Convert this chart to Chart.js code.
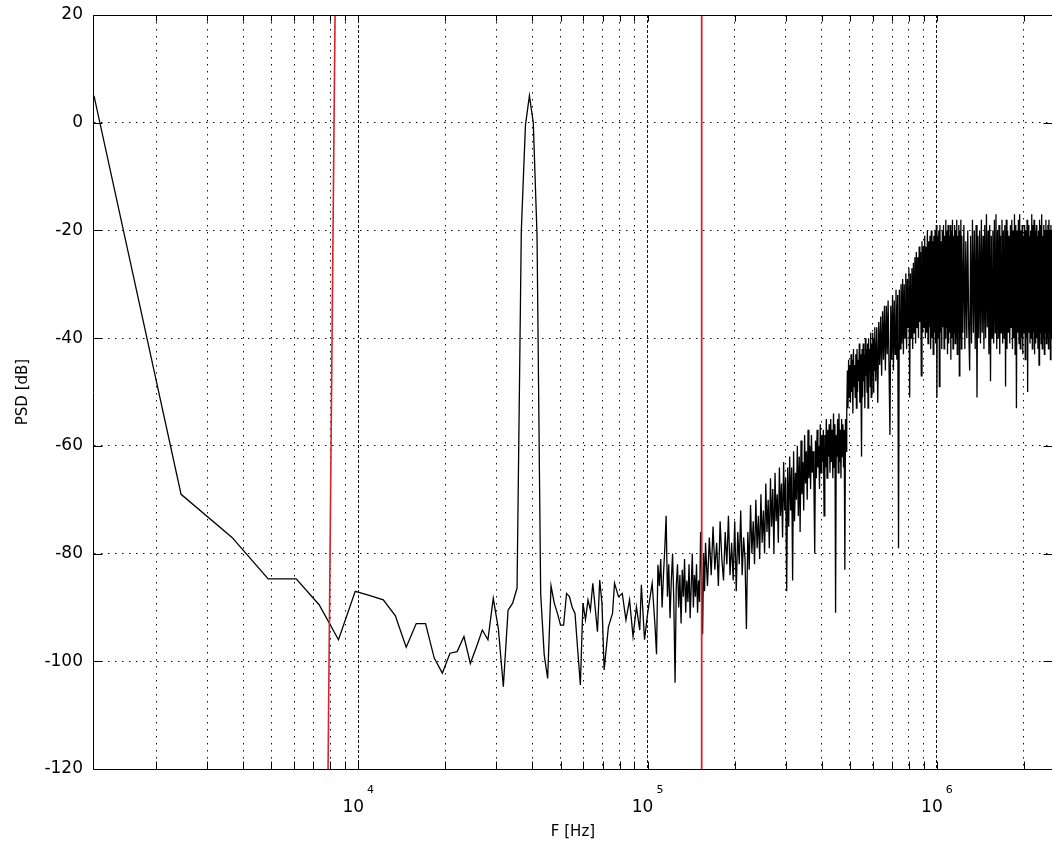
<!DOCTYPE html>
<html>
<head>
<meta charset="utf-8">
<script src="https://cdn.jsdelivr.net/npm/chart.js@4.4.1/dist/chart.umd.min.js"></script>
<style>
  html, body { margin: 0; padding: 0; background: #fff; overflow: hidden; }
  #wrap { width: 1052px; height: 842px; position: relative; }
</style>
</head>
<body>
<div id="wrap"><canvas id="psd"></canvas></div>
<script>
// FFT bin width in Hz
const binHz = 1220;

// low part of the spectrum, bin by bin (tone at bin 32)
const toneBins = [1, 2, 3, 4, 5, 6, 7, 8, 9, 10, 11, 12, 13, 14, 15, 16, 17, 18, 19, 20,
    21, 22, 23, 24, 25, 26, 27, 28, 29, 30, 31, 32, 33, 34, 35, 36, 37, 38, 39, 40,
    41, 42, 43, 44, 45, 46, 47, 48, 49, 50, 51, 52, 53, 55, 56, 57, 58, 60, 62, 63,
    65, 67, 68, 69, 71, 73, 75, 77, 78, 80, 82, 85, 87, 88, 89];
const toneDb = [5, -69, -77, -84.7, -84.7, -89.5, -96, -87, -87.8, -88.6, -91.5, -97.4, -93, -93, -99.4, -102.2, -98.5, -98.2, -95.4, -100.4,
    -97.3, -94.2, -96, -88.3, -94, -104.7, -90.5, -89.2, -86.4, -20, -0.5, 5, 0, -21, -87.5, -98.8, -103.2, -86, -89.2, -91.1,
    -93.3, -93.3, -87.4, -88, -90, -91.1, -97.9, -104.4, -89.2, -92.3, -88.6, -90.5, -85.5, -94.5, -84.9, -89.2, -101.6, -93.6, -91.1, -85.5,
    -88, -87.4, -89.9, -92.3, -88.6, -95.4, -89.9, -94.2, -85.8, -96, -91.1, -85.5, -93.6, -98.7, -82.1];

// noisy part, 90 .. 250 (bins)
const midBins = [90, 91, 92, 93, 94, 95, 96, 97, 98, 99, 100, 101, 102, 103, 104, 105, 106, 107, 108, 109,
    110, 111, 112, 113, 114, 115, 116, 117, 118, 119, 120, 121, 122, 123, 124, 125, 126, 127, 128, 129, 130,
    132, 134, 136, 138, 140, 142, 144, 146, 148, 150, 152, 154, 156, 158, 160, 162, 164, 166, 168, 170,
    172, 174, 176, 178, 180, 182, 184, 186, 188, 190, 192, 194, 196, 198, 200, 202, 204, 206, 208, 210,
    212, 214, 216, 218, 220, 222, 224, 226, 228, 230, 232, 234, 236, 238, 240, 242, 244, 246, 248, 250];
const midDb = [-86, -81, -90, -84, -79, -73, -88, -82, -92, -85, -80, -89, -104, -86, -82, -90, -84, -93, -83, -88,
    -81, -91, -85, -89, -82, -92, -86, -80, -90, -84, -88, -82, -91, -85, -89, -76, -84, -95, -80, -87, -78,
    -86, -77, -84, -75, -83, -78, -86, -74, -81, -85, -76, -82, -73, -84, -78, -85, -74, -87, -76, -82,
    -72, -84, -77, -81, -94, -76, -83, -71, -80, -74, -82, -70, -79, -73, -81, -69, -78, -72, -80, -67,
    -76, -70, -79, -66, -75, -68, -80, -65, -74, -69, -78, -64, -73, -67, -77, -63, -72, -66, -87, -64];

// rising part, 252 .. 500 every 2 bins
const riseBins = [252, 254, 256, 258, 260, 262, 264, 266, 268, 270, 272, 274, 276, 278, 280, 282, 284, 286, 288, 290,
    292, 294, 296, 298, 300, 302, 304, 306, 308, 310, 312, 314, 316, 318, 320, 322, 324, 326, 328, 330,
    332, 334, 336, 338, 340, 342, 344, 346, 348, 350, 352, 354, 356, 358, 360, 362, 364, 366, 368, 370,
    372, 374, 376, 378, 380, 382, 384, 386, 388, 390, 392, 394, 396, 398, 400, 402, 404, 406, 408, 410,
    412, 414, 416, 418, 420, 422, 424, 426, 428, 430, 432, 434, 436, 438, 440, 442, 444, 446, 448, 450,
    452, 454, 456, 458, 460, 462, 464, 466, 468, 470, 472, 474, 476, 478, 480, 482, 484, 486, 488, 490,
    492, 494, 496, 498, 500];
const riseDb = [-75, -62, -72, -64, -85, -61, -74, -65, -70, -60, -73, -62, -76, -59, -69, -63, -72, -58, -67, -61,
    -70, -57, -66, -60, -68, -58, -65, -61, -67, -80, -59, -66, -57, -64, -60, -68, -56, -65, -58, -63,
    -57, -73, -58, -64, -55, -66, -57, -62, -56, -65, -55, -63, -57, -66, -54, -64, -56, -91, -58, -62,
    -55, -65, -54, -63, -57, -66, -55, -62, -56, -64, -57, -83, -55, -61, -54, -46, -53, -44, -51, -45,
    -52, -43, -50, -44, -54, -42, -49, -45, -51, -43, -53, -42, -50, -44, -48, -41, -52, -43, -49, -62,
    -42, -51, -41, -48, -43, -53, -40, -47, -42, -50, -41, -53, -40, -46, -42, -49, -39, -51, -41, -47,
    -39, -50, -40, -46, -38];

// knee, 504 .. 1000 every 4 bins
const kneeBins = [504, 508, 512, 516, 520, 524, 528, 532, 536, 540, 544, 548, 552, 556, 560, 564, 568, 572, 576, 580,
    584, 588, 592, 596, 600, 604, 608, 612, 616, 620, 624, 628, 632, 636, 640, 644, 648, 652, 656, 660,
    664, 668, 672, 676, 680, 684, 688, 692, 696, 700, 704, 708, 712, 716, 720, 724, 728, 732, 736, 740,
    744, 748, 752, 756, 760, 764, 768, 772, 776, 780, 784, 788, 792, 796, 800, 804, 808, 812, 816, 820,
    824, 828, 832, 836, 840, 844, 848, 852, 856, 860, 864, 868, 872, 876, 880, 884, 888, 892, 896, 900,
    904, 908, 912, 916, 920, 924, 928, 932, 936, 940, 944, 948, 952, 956, 960, 964, 968, 972, 976, 980,
    984, 988, 992, 996, 1000];
const kneeDb = [-48, -38, -52, -37, -45, -36, -47, -35, -44, -34, -46, -34, -43, -33, -45, -58, -34, -44, -32, -46,
    -33, -43, -31, -44, -32, -79, -31, -42, -30, -41, -29, -43, -30, -40, -28, -42, -29, -38, -27, -51,
    -28, -40, -27, -42, -26, -39, -25, -41, -24, -38, -25, -40, -23, -37, -24, -47, -22, -39, -23, -38,
    -21, -40, -23, -39, -20, -41, -22, -38, -21, -42, -20, -40, -22, -43, -21, -39, -20, -41, -19, -51,
    -21, -40, -20, -49, -19, -39, -22, -42, -20, -38, -19, -42, -21, -40, -18, -38, -20, -43, -19, -41,
    -21, -39, -19, -44, -20, -40, -18, -42, -21, -39, -19, -41, -20, -40, -18, -43, -21, -39, -19, -47,
    -20, -40, -18, -42, -21];

// plateau, 1008 .. 2048 every 8 bins
const topBins = [1008, 1016, 1024, 1032, 1040, 1048, 1056, 1064, 1072, 1080, 1088, 1096, 1104, 1112, 1120, 1128, 1136, 1144, 1152, 1160,
    1168, 1176, 1184, 1192, 1200, 1208, 1216, 1224, 1232, 1240, 1248, 1256, 1264, 1272, 1280, 1288, 1296, 1304, 1312, 1320,
    1328, 1336, 1344, 1352, 1360, 1368, 1376, 1384, 1392, 1400, 1408, 1416, 1424, 1432, 1440, 1448, 1456, 1464, 1472, 1480,
    1488, 1496, 1504, 1512, 1520, 1528, 1536, 1544, 1552, 1560, 1568, 1576, 1584, 1592, 1600, 1608, 1616, 1624, 1632, 1640,
    1648, 1656, 1664, 1672, 1680, 1688, 1696, 1704, 1712, 1720, 1728, 1736, 1744, 1752, 1760, 1768, 1776, 1784, 1792, 1800,
    1808, 1816, 1824, 1832, 1840, 1848, 1856, 1864, 1872, 1880, 1888, 1896, 1904, 1912, 1920, 1928, 1936, 1944, 1952, 1960,
    1968, 1976, 1984, 1992, 2000, 2008, 2016, 2024, 2032, 2040, 2048];
const topDb = [-39, -19, -42, -22, -40, -20, -38, -46, -21, -41, -18, -39, -20, -42, -19, -51, -21, -40, -20, -41,
    -18, -39, -21, -42, -19, -40, -17, -38, -20, -43, -19, -48, -21, -40, -20, -41, -18, -39, -17, -42,
    -20, -40, -19, -43, -21, -39, -18, -41, -20, -40, -19, -49, -18, -42, -20, -39, -21, -41, -19, -38,
    -18, -42, -20, -40, -17, -43, -19, -53, -20, -39, -18, -41, -17, -42, -20, -40, -19, -43, -21, -39,
    -19, -44, -20, -40, -18, -50, -19, -39, -21, -41, -20, -40, -17, -42, -19, -39, -18, -43, -20, -41,
    -19, -40, -21, -42, -20, -45, -18, -39, -19, -41, -17, -42, -21, -40, -19, -43, -20, -39, -18, -41,
    -20, -40, -19, -42, -18, -39, -20, -44, -19, -40, -20];

// red marker lines
const markerLowHz = [7860, 8310];
const markerHighHz = [153800, 153800];
const markerDb = [-120, 20];

// axis ticks / grid
const xGrid = [2000, 3000, 4000, 5000, 6000, 7000, 8000, 9000,
    10000, 20000, 30000, 40000, 50000, 60000, 70000, 80000, 90000,
    100000, 200000, 300000, 400000, 500000, 600000, 700000, 800000, 900000,
    1000000, 2000000];
const decades = [4, 5, 6];
const yTicks = [20, 0, -20, -40, -60, -80, -100, -120];

const decadeHz = decades.map(e => Math.pow(10, e));

const psdBins = toneBins.concat(midBins, riseBins, kneeBins, topBins);
const psdDb = toneDb.concat(midDb, riseDb, kneeDb, topDb);
const psdPoints = psdBins.map((k, i) => ({ x: k * binHz, y: psdDb[i] }));

// frame, inward ticks and 10^n labels
const framePlugin = {
    id: 'frame',
    afterDatasetsDraw(chart) {
        const { ctx, chartArea: a, scales } = chart;
        const xs = scales.x, ys = scales.y;
        const L = a.left - 0.5, R = a.right + 0.5, T = a.top + 0.5, B = a.bottom + 0.5;
        ctx.save();
        ctx.strokeStyle = '#000';
        ctx.lineWidth = 1;
        ctx.setLineDash([]);
        ctx.beginPath();
        ctx.moveTo(L, T); ctx.lineTo(R, T); ctx.lineTo(R, B); ctx.lineTo(L, B); ctx.closePath();
        xGrid.forEach(v => {
            const px = Math.round(xs.getPixelForValue(v)) + 0.5;
            ctx.moveTo(px, B); ctx.lineTo(px, B - 8);
            ctx.moveTo(px, T); ctx.lineTo(px, T + 6);
        });
        yTicks.forEach(v => {
            const py = Math.round(ys.getPixelForValue(v)) + 0.5;
            ctx.moveTo(L, py); ctx.lineTo(L + 9, py);
            ctx.moveTo(R, py); ctx.lineTo(R - 9, py);
        });
        ctx.stroke();

        ctx.fillStyle = '#000';
        ctx.textAlign = 'left';
        ctx.textBaseline = 'alphabetic';
        decades.forEach(e => {
            const px = xs.getPixelForValue(Math.pow(10, e));
            ctx.font = '17px "DejaVu Sans"';
            const w1 = ctx.measureText('10').width;
            ctx.font = '11px "DejaVu Sans"';
            const w2 = ctx.measureText(String(e)).width;
            const x0 = px - (w1 + 3 + w2) / 2;
            ctx.font = '17px "DejaVu Sans"';
            ctx.fillText('10', x0, a.bottom + 43);
            ctx.font = '11px "DejaVu Sans"';
            ctx.fillText(String(e), x0 + w1 + 3, a.bottom + 24);
        });
        ctx.restore();
    }
};

Chart.defaults.font.family = '"DejaVu Sans", sans-serif';
Chart.defaults.color = '#000';

new Chart(document.getElementById('psd'), {
    type: 'line',
    data: {
        datasets: [
            { data: markerLowHz.map((f, i) => ({ x: f, y: markerDb[i] })), borderColor: '#d8232a', borderWidth: 1.6, pointRadius: 0 },
            { data: markerHighHz.map((f, i) => ({ x: f, y: markerDb[i] })), borderColor: '#d8232a', borderWidth: 1.8, pointRadius: 0 },
            { data: psdPoints, borderColor: '#000', borderWidth: 1.3, pointRadius: 0, tension: 0 }
        ]
    },
    options: {
        animation: false,
        responsive: true,
        maintainAspectRatio: false,
        devicePixelRatio: 1,
        layout: { padding: { top: 15, right: 0, left: 0, bottom: 0 } },
        plugins: { legend: { display: false }, tooltip: { enabled: false } },
        scales: {
            x: {
                type: 'logarithmic',
                min: 1220,
                max: 2500000,
                afterBuildTicks: s => { s.ticks = xGrid.map(v => ({ value: v })); },
                afterFit: s => { s.height = 73; s.paddingLeft = 0; s.paddingRight = 0; },
                ticks: { display: false },
                grid: { color: '#111', lineWidth: 1, drawTicks: false },
                border: {
                    display: false,
                    dash: c => (c.tick && decadeHz.includes(c.tick.value)) ? [3, 2] : [1.5, 5.5]
                },
                title: { display: true, text: 'F [Hz]', font: { size: 15 }, padding: { top: 0, bottom: 1 } }
            },
            y: {
                min: -120,
                max: 20,
                afterBuildTicks: s => { s.ticks = yTicks.map(v => ({ value: v })); },
                afterFit: s => { s.width = 94; s.paddingTop = 0; s.paddingBottom = 0; },
                ticks: { font: { size: 17 }, padding: 11, color: '#000' },
                grid: { color: '#111', lineWidth: 1, drawTicks: false },
                border: { display: false, dash: [1.5, 5.5] },
                title: { display: true, text: 'PSD [dB]', font: { size: 15 }, padding: { top: 14, bottom: 0 } }
            }
        }
    },
    plugins: [framePlugin]
});
</script>
</body>
</html>
